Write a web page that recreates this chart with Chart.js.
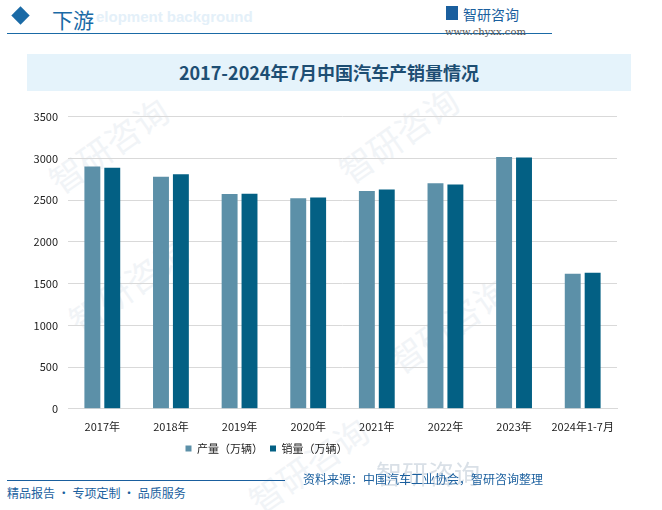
<!DOCTYPE html>
<html>
<head>
<meta charset="utf-8">
<script src="https://cdn.jsdelivr.net/npm/chart.js@4"></script>
<style>
  body { margin:0; width:662px; height:510px; position:relative; background:#fff; overflow:hidden;
         font-family:"Noto Sans CJK SC","Liberation Sans",sans-serif; }
  .abs { position:absolute; }
  .wm { position:absolute; color:#f1f4f7; font-size:34px; transform:rotate(-35deg); white-space:nowrap; }
</style>
</head>
<body>
<!-- faint watermarks -->
<div class="wm" style="left:40px;top:120px;">智研咨询</div>
<div class="wm" style="left:330px;top:110px;">智研咨询</div>
<div class="wm" style="left:60px;top:260px;">智研咨询</div>
<div class="wm" style="left:380px;top:300px;">智研咨询</div>
<div class="wm" style="left:240px;top:440px;">智研咨询</div>

<!-- header -->
<div class="abs" style="left:14px;top:9px;width:13px;height:13px;background:#1a6aa6;transform:rotate(45deg);"></div>
<div class="abs" style="left:52px;top:4px;font-size:21px;color:#1a6aa6;font-family:'Noto Sans CJK SC';">下游</div>
<div class="abs" style="left:96px;top:8px;font-size:15px;font-weight:bold;color:#e4f0f9;font-family:'Liberation Sans';">elopment background</div>
<div class="abs" style="left:7px;top:33px;width:545px;height:1px;background:#1a6aa6;"></div>
<div class="abs" style="left:446px;top:6px;width:12px;height:14px;background:#1a5f9e;"></div>
<div class="abs" style="left:463px;top:4px;font-size:14px;color:#1a5f9e;">智研咨询</div>
<div class="abs" style="left:445px;top:26px;font-size:10px;color:#555;font-family:'DejaVu Serif';">www.chyxx.com</div>

<!-- title box -->
<div class="abs" style="left:27px;top:54px;width:604px;height:37px;background:#e5f3fb;"></div>
<div class="abs" style="left:27px;top:59px;width:604px;text-align:center;font-size:18px;font-weight:bold;color:#1d4e73;">2017-2024年7月中国汽车产销量情况</div>

<div class="abs" style="left:0;top:100px;width:640px;height:364px;">
  <canvas id="chart"></canvas>
</div>

<!-- footer -->
<div class="abs" style="left:7px;top:480px;width:278px;height:1px;background:#1a5f9e;"></div>
<div class="abs" style="left:7px;top:484px;font-size:12px;color:#1a5f9e;">精品报告 · 专项定制 · 品质服务</div>
<div class="abs" style="left:376px;top:454px;font-size:26px;color:#d9e0e7;">智研咨询</div>
<div class="abs" style="left:303px;top:470px;font-size:12px;color:#1a5f9e;">资料来源：中国汽车工业协会，智研咨询整理</div>

<script>
const categories = ['2017年','2018年','2019年','2020年','2021年','2022年','2023年','2024年1-7月'];
const production = [2901.5, 2780.9, 2572.1, 2522.5, 2608.2, 2702.1, 3016.1, 1617];
const sales = [2887.9, 2808.1, 2576.9, 2531.1, 2627.5, 2686.4, 3009.4, 1631];
const seriesNames = ['产量（万辆）', '销量（万辆）'];

const tickFont = { family: "'Noto Sans CJK SC','Liberation Sans',sans-serif", size: 11 };

// the legend in the reference sits left of centre
const legendShift = {
  id: 'legendShift',
  afterUpdate(chart) {
    const lg = chart.legend;
    if (!lg || lg._shifted) return;
    const orig = lg.draw.bind(lg);
    lg.draw = function(area) {
      chart.ctx.save();
      chart.ctx.translate(-42, 0);
      orig(area);
      chart.ctx.restore();
    };
    lg._shifted = true;
  }
};

new Chart(document.getElementById('chart'), {
  type: 'bar',
  data: {
    labels: categories,
    datasets: [
      { label: seriesNames[0], data: production, backgroundColor: '#5c90a8' },
      { label: seriesNames[1], data: sales, backgroundColor: '#036084' }
    ]
  },
  plugins: [legendShift],
  options: {
    responsive: true,
    maintainAspectRatio: false,
    animation: false,
    layout: { padding: { top: 10, right: 23, left: 0, bottom: 0 } },
    datasets: { bar: { categoryPercentage: 0.58, barPercentage: 0.8 } },
    plugins: {
      tooltip: { enabled: false },
      legend: {
        position: 'bottom',
        labels: { boxWidth: 6, boxHeight: 6, color: '#222', font: { size: 11, family: tickFont.family }, padding: 7 }
      }
    },
    scales: {
      x: {
        grid: { display: false },
        border: { color: '#d9d9d9' },
        ticks: { color: '#222', font: tickFont, maxRotation: 0, autoSkip: false }
      },
      y: {
        min: 0, max: 3500,
        afterFit: s => { s.width = 68; },
        grid: { color: '#d9d9d9', drawTicks: false },
        border: { display: false },
        ticks: { stepSize: 500, color: '#222', font: tickFont, padding: 10, callback: v => String(v) }
      }
    }
  }
});
</script>
</body>
</html>
